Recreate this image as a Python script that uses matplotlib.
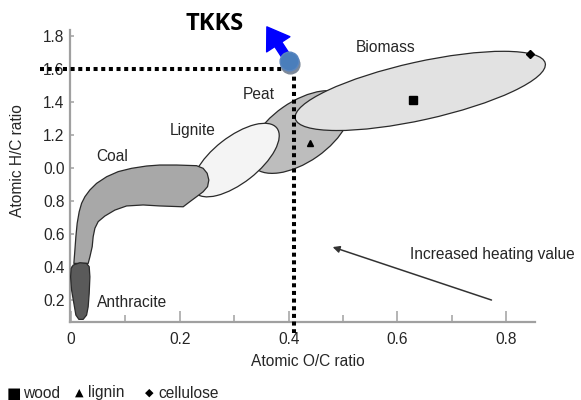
import numpy as np
import matplotlib
matplotlib.use('Agg')
import matplotlib.pyplot as plt
from matplotlib.patches import Polygon, Ellipse
from matplotlib.transforms import ScaledTranslation, IdentityTransform, offset_copy

plt.rcParams['font.family'] = ['Liberation Sans', 'DejaVu Sans']

# axis ticks
oc_ticks = [0, 0.2, 0.4, 0.6, 0.8]
oc_tick_labels = ['0', '0.2', '0.4', '0.6', '0.8']
oc_minor = [0.1, 0.3, 0.5, 0.7]
hc_ticks = [0.2, 0.4, 0.6, 0.8, 1.0, 1.2, 1.4, 1.6, 1.8]
hc_tick_labels = ['0.2', '0.4', '0.6', '0.8', '0.0', '1.2', '1.4', '1.6', '1.8']

# fuel regions outlines (O/C, H/C)
coal_oc = [0.0051, 0.0070, 0.0088, 0.0112, 0.0149, 0.0193, 0.0254, 0.0346, 0.0469, 0.0653,
           0.0866, 0.1112, 0.1388, 0.1632, 0.1939, 0.2307, 0.2428, 0.2502, 0.2533, 0.2509,
           0.2428, 0.2307, 0.2184, 0.2061, 0.1632, 0.1325, 0.1020, 0.0805, 0.0621, 0.0498,
           0.0438, 0.0406, 0.0388, 0.0346, 0.0314]
coal_hc = [0.422, 0.503, 0.584, 0.665, 0.735, 0.786, 0.826, 0.867, 0.907, 0.947,
           0.978, 0.998, 1.012, 1.018, 1.018, 1.014, 0.998, 0.968, 0.927, 0.887,
           0.856, 0.826, 0.796, 0.765, 0.770, 0.776, 0.770, 0.745, 0.709, 0.675,
           0.635, 0.584, 0.523, 0.462, 0.422]
anthracite_oc = [0.0039, 0.0162, 0.0285, 0.0333, 0.0346, 0.0333, 0.0314, 0.0285, 0.0222,
                 0.0143, 0.0088, 0.0051, 0.0009, -0.0009, 0.0002]
anthracite_hc = [0.412, 0.426, 0.422, 0.402, 0.341, 0.241, 0.159, 0.109, 0.083,
                 0.083, 0.109, 0.180, 0.261, 0.341, 0.392]

# ellipse regions: centre (O/C, H/C)
lignite_centre = (0.303, 1.048)
peat_centre = (0.421, 1.218)
biomass_centre = (0.642, 1.467)

# reference compounds
wood = (0.628, 1.412)
lignin = (0.439, 1.152)
cellulose = (0.843, 1.691)

# TKKS
tkks_oc = 0.41
tkks_hc = 1.6
tkks_point = (0.401, 1.648)
tkks_arrow_tip = (0.360, 1.855)

# heating value arrow
heat_start = (0.773, 0.200)
heat_end = (0.481, 0.521)

region_labels = ['Coal', 'Lignite', 'Peat', 'Biomass', 'Anthracite']
region_label_pos = [(0.076, 1.067), (0.224, 1.230), (0.345, 1.443), (0.579, 1.733), (0.112, 0.188)]

txt = '#262626'
edge = '#2a2a2a'

fig = plt.figure(figsize=(5.81, 4.00), dpi=100)
ax = fig.add_axes([70 / 581, 1 - 322 / 400, 465 / 581, 292 / 400])
ax.set_xlim(-0.002, 0.853)
ax.set_ylim(0.067, 1.836)

for s in ['top', 'right']:
    ax.spines[s].set_visible(False)
for s in ['left', 'bottom']:
    ax.spines[s].set_color('#a0a0a0')
    ax.spines[s].set_linewidth(1.6)

ax.set_xticks(oc_ticks, oc_tick_labels)
ax.set_xticks(oc_minor, minor=True)
ax.set_yticks(hc_ticks, hc_tick_labels)
ax.tick_params(axis='x', which='major', direction='in', length=8, width=1.1, color='#a0a0a0',
               labelsize=11.2, labelcolor=txt, pad=7)
ax.tick_params(axis='x', which='minor', direction='in', length=5, width=1.1, color='#a0a0a0')
ax.tick_params(axis='y', direction='in', length=3, width=1.1, color='#a0a0a0',
               labelsize=11.2, labelcolor=txt, pad=4)


def ellipse(centre, a, b, angle, color, z):
    # semi axes in pixels, angle on screen
    tr = IdentityTransform() + ScaledTranslation(centre[0], centre[1], ax.transData)
    e = Ellipse((0, 0), 2 * a, 2 * b, angle=angle, transform=tr, clip_on=False,
                facecolor=color, edgecolor=edge, linewidth=0.9, zorder=z)
    ax.add_patch(e)


ellipse(peat_centre, 58, 30, 35, '#bdbdbd', 2)
ellipse(biomass_centre, 128, 29, 12.5, '#e2e2e2', 3)
ellipse(lignite_centre, 52, 23, 38, '#f4f4f4', 3)
ax.add_patch(Polygon(np.column_stack([coal_oc, coal_hc]), closed=True, facecolor='#a8a8a8',
                     edgecolor=edge, linewidth=0.9, joinstyle='round', zorder=4))
ax.add_patch(Polygon(np.column_stack([anthracite_oc, anthracite_hc]), closed=True, facecolor='#5a5a5a',
                     edgecolor=edge, linewidth=0.9, joinstyle='round', zorder=5))

ax.plot(*wood, 's', color='black', ms=6, zorder=6)
ax.plot(*lignin, '^', color='black', ms=5, zorder=6)
ax.plot(*cellulose, 'D', color='black', ms=4.5, zorder=6, clip_on=False)

for lab, (x, y) in zip(region_labels, region_label_pos):
    ax.text(x, y, lab, fontsize=11.2, color=txt, ha='center', va='center', zorder=7)

ax.annotate('', xy=heat_end, xytext=heat_start,
            arrowprops=dict(arrowstyle='-|>', color='#333333', lw=1.1, mutation_scale=10,
                            shrinkA=0, shrinkB=0))
ax.text(0.623, 0.473, 'Increased heating value', fontsize=11.2, color=txt, ha='left', va='center')

# TKKS lines and point
dots = (0, (1, 0.9))
ax.plot([-0.057, tkks_oc], [tkks_hc, tkks_hc], color='black', lw=2.9, ls=dots,
        dash_capstyle='butt', clip_on=False, zorder=8)
ax.plot([tkks_oc, tkks_oc], [tkks_hc, 0.0], color='black', lw=2.9, ls=dots,
        dash_capstyle='butt', clip_on=False, zorder=8)

ax.annotate('', xy=tkks_arrow_tip, xytext=tkks_point, annotation_clip=False,
            arrowprops=dict(arrowstyle='simple,head_length=1.5,head_width=2.0,tail_width=0.6',
                            color='#0000ff', mutation_scale=10, shrinkA=0, shrinkB=0), zorder=9)
shadow = offset_copy(ax.transData, fig=fig, x=1, y=-3, units='dots')
ax.plot(*tkks_point, 'o', color='#7d8999', ms=13.5, transform=shadow, clip_on=False, zorder=9)
ax.plot(*tkks_point, 'o', color='#4a7ebb', mec='#5a86bf', ms=13.5, clip_on=False, zorder=10)

fig.text(215 / 581, 1 - 24 / 400, 'TKKS', fontsize=17, fontweight='bold', family='Open Sans',
         color='black', ha='center', va='center')

fig.text(308 / 581, 1 - 362 / 400, 'Atomic O/C ratio', fontsize=11.2, color=txt, ha='center', va='center')
fig.text(18 / 581, 1 - 161 / 400, 'Atomic H/C ratio', fontsize=11.2, color=txt, ha='center', va='center',
         rotation=90)

# legend line at the bottom
legend_symbols = ['■', '▲', '◆']
legend_names = ['wood', 'lignin', 'cellulose']
sym_x = [14, 79, 149]
name_x = [23, 88, 158]
sym_size = [11, 8, 8]
for sym, name, sx, nx, ss in zip(legend_symbols, legend_names, sym_x, name_x, sym_size):
    fig.text(sx / 581, 1 - 393 / 400, sym, fontsize=ss, family='DejaVu Sans', color='black',
             ha='center', va='center')
    fig.text(nx / 581, 1 - 393 / 400, name, fontsize=11.2, color=txt, ha='left', va='center')

fig.savefig('out.png', dpi=100)
